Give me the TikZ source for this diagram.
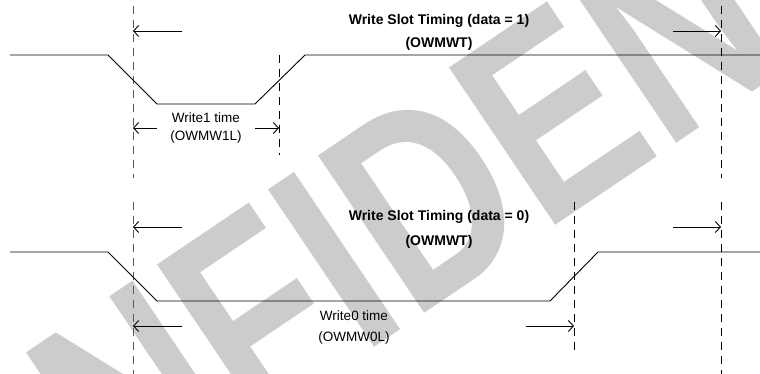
\documentclass[tikz,border=0pt]{standalone}
\usepackage{fontspec}
\setmainfont{Liberation Sans}
\usetikzlibrary{arrows.meta}
\begin{document}
\begin{tikzpicture}[x=1pt,y=-1pt,
  wave/.style={line width=0.9pt, black},
  guide/.style={line width=1pt, dash pattern=on 8pt off 6pt},
  guidegray/.style={guide, black!65},
  dim/.style={line width=0.9pt, -{Straight Barb[length=5pt,width=11pt]}},
  title/.style={font=\fontsize{14}{16}\selectfont\bfseries, anchor=base, inner sep=0pt},
  lab/.style={font=\fontsize{13.5}{16}\selectfont, anchor=base, inner sep=0pt},
  wmark/.style={text=black!20, font=\fontsize{230}{230}\selectfont\bfseries, rotate=34, xscale=0.95, yscale=1.2, inner sep=0pt},
]
\useasboundingbox (0,0) rectangle (760,374);
\fill[white] (0,0) rectangle (760,374);
% watermark
\begin{scope}
\clip (0,0) rectangle (760,374);
\node[wmark] (wm) at (470,168) {CONFIDENTIAL};
\end{scope}

% ---------- coordinates ----------
% top waveform
\coordinate (a1) at (10,55);
\coordinate (a2) at (108,55);
\coordinate (a3) at (157,104);
\coordinate (a4) at (255,104);
\coordinate (a5) at (305,55);
\coordinate (a6) at (760,55);
% bottom waveform
\coordinate (b1) at (10,252);
\coordinate (b2) at (108,252);
\coordinate (b3) at (157,301);
\coordinate (b4) at (550,301);
\coordinate (b5) at (598,252);
\coordinate (b6) at (760,252);
% dashed guides
\coordinate (g1a) at (133,6);
\coordinate (g1b) at (133,178);
\coordinate (g1c) at (133,202);
\coordinate (g1d) at (133,374);
\coordinate (g2a) at (721,6);
\coordinate (g2b) at (721,178);
\coordinate (g2c) at (721,202);
\coordinate (g2d) at (721,374);
\coordinate (g3a) at (279,55);
\coordinate (g3b) at (279,155);
\coordinate (g4a) at (574,202);
\coordinate (g4b) at (574,350);
% arrow ends
\coordinate (p1s) at (182,31);  \coordinate (p1e) at (133,31);
\coordinate (p2s) at (673,31);  \coordinate (p2e) at (721,31);
\coordinate (p3s) at (157,128); \coordinate (p3e) at (133,128);
\coordinate (p4s) at (255,128); \coordinate (p4e) at (279,128);
\coordinate (q1s) at (182,227); \coordinate (q1e) at (133,227);
\coordinate (q2s) at (673,227); \coordinate (q2e) at (721,227);
\coordinate (q3s) at (182,326); \coordinate (q3e) at (133,326);
\coordinate (q4s) at (526,326); \coordinate (q4e) at (574,326);

% ---------- drawing ----------
\draw[guidegray] (g1a) -- (g1b);
\draw[guidegray] (g1c) -- (g1d);
\draw[guide] (g2a) -- (g2b);
\draw[guide] (g2c) -- (g2d);
\draw[guide] (g3a) -- (g3b);
\draw[guide] (g4a) -- (g4b);

\draw[wave] (a1) -- (a2) -- (a3) -- (a4) -- (a5) -- (a6);
\draw[wave] (b1) -- (b2) -- (b3) -- (b4) -- (b5) -- (b6);

\draw[dim] (p1s) -- (p1e);
\draw[dim] (p2s) -- (p2e);
\draw[dim] (p3s) -- (p3e);
\draw[dim] (p4s) -- (p4e);
\draw[dim] (q1s) -- (q1e);
\draw[dim] (q2s) -- (q2e);
\draw[dim] (q3s) -- (q3e);
\draw[dim] (q4s) -- (q4e);

% ---------- labels ----------
\node[title] (t1) at (439,25) {Write Slot Timing (data = 1)};
\node[title] (t2) at (439,48) {(OWMWT)};
\node[lab] (l1) at (206,123) {Write1 time};
\node[lab] (l2) at (206,141) {(OWMW1L)};
\node[title] (t3) at (439,221) {Write Slot Timing (data = 0)};
\node[title] (t4) at (439,245) {(OWMWT)};
\node[lab] (l3) at (354,320) {Write0 time};
\node[lab] (l4) at (354,341) {(OWMW0L)};
\end{tikzpicture}
\end{document}
